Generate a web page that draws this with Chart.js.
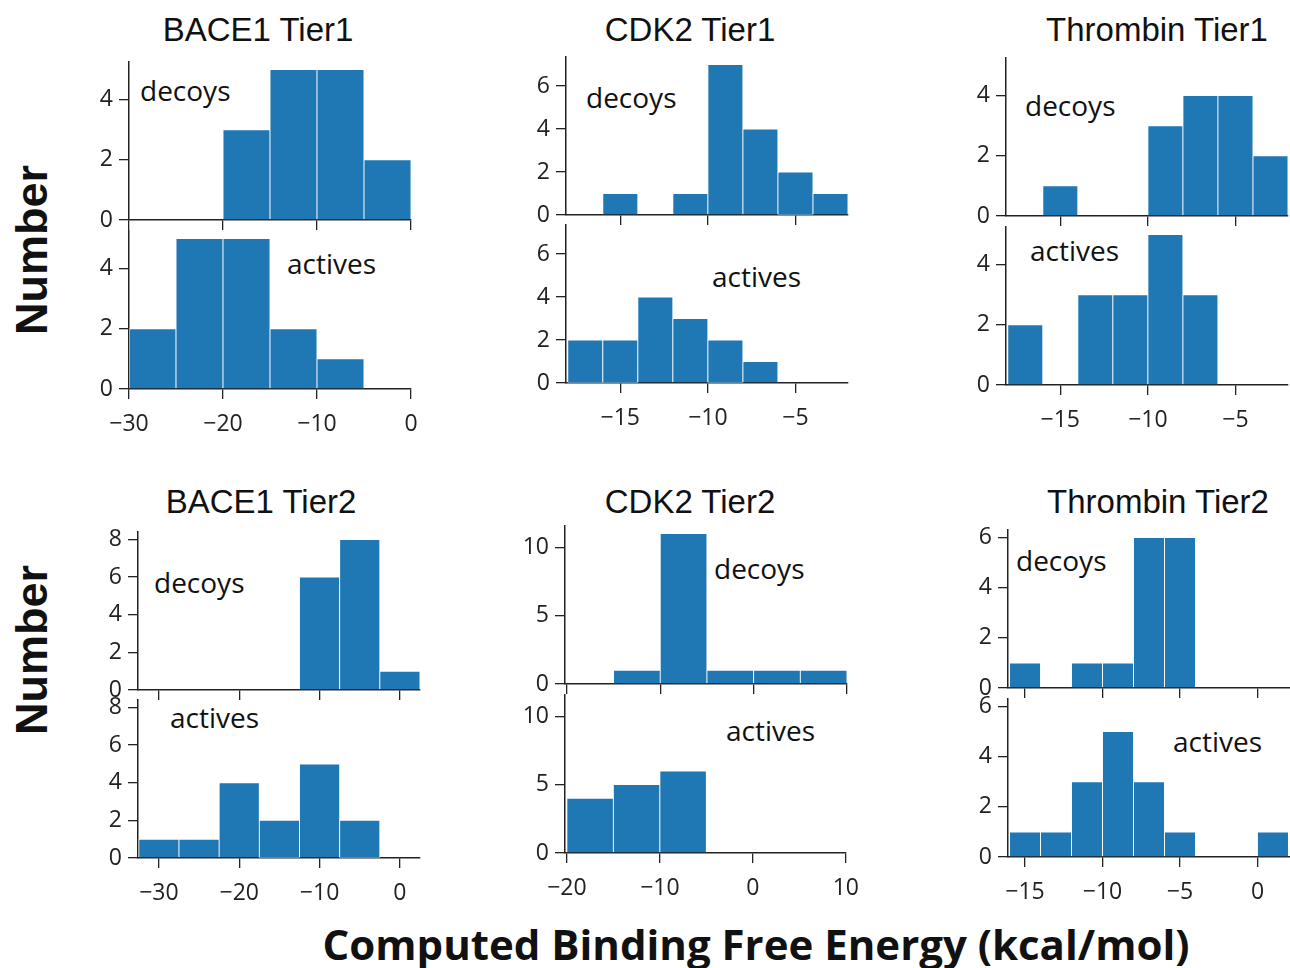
<!DOCTYPE html>
<html>
<head>
<meta charset="utf-8">
<script src="https://cdn.jsdelivr.net/npm/chart.js@4.4.0/dist/chart.umd.min.js"></script>
<style>
html, body { margin: 0; padding: 0; background: #fff; overflow: hidden; }
#fig { position: relative; width: 1290px; height: 968px; }
#fig canvas { position: absolute; }
.t { position: absolute; line-height: 1; white-space: nowrap; color: #111; }
.title { font: 33px "Liberation Sans", Arial, sans-serif; transform: translate(-50%, -50%); }
.lab { font: 28px "Open Sans", sans-serif; }
.ylab { font: bold 45px "Liberation Sans", Arial, sans-serif; transform: translate(-50%, -50%) rotate(-90deg); }
.xlab { font: bold 42px "Open Sans", sans-serif; transform: translate(-50%, -50%); }
</style>
</head>
<body>
<div id="fig">
  <div class="t title" style="left:258px; top:30px">BACE1 Tier1</div>
  <div class="t title" style="left:690px; top:30px">CDK2 Tier1</div>
  <div class="t title" style="left:1157px; top:30px">Thrombin Tier1</div>
  <div class="t title" style="left:261px; top:502px">BACE1 Tier2</div>
  <div class="t title" style="left:690px; top:502px">CDK2 Tier2</div>
  <div class="t title" style="left:1158px; top:502px">Thrombin Tier2</div>

  <div class="t ylab" style="left:32px; top:250px">Number</div>
  <div class="t ylab" style="left:32px; top:650px">Number</div>
  <div class="t xlab" style="left:756px; top:943px">Computed Binding Free Energy (kcal/mol)</div>

  <div class="t lab" style="left:140px; top:71px">decoys</div>
  <div class="t lab" style="left:287px; top:244px">actives</div>
  <div class="t lab" style="left:586px; top:78px">decoys</div>
  <div class="t lab" style="left:712px; top:257px">actives</div>
  <div class="t lab" style="left:1025px; top:86px">decoys</div>
  <div class="t lab" style="left:1030px; top:231px">actives</div>
  <div class="t lab" style="left:154px; top:563px">decoys</div>
  <div class="t lab" style="left:170px; top:698px">actives</div>
  <div class="t lab" style="left:714px; top:549px">decoys</div>
  <div class="t lab" style="left:726px; top:711px">actives</div>
  <div class="t lab" style="left:1016px; top:541px">decoys</div>
  <div class="t lab" style="left:1173px; top:722px">actives</div>
</div>
<script>
// bin edges (kcal/mol) and counts for each target / tier
const baceT1Bins = [-30, -25, -20, -15, -10, -5, 0];
const baceT1Decoys = [0, 0, 3, 5, 5, 2];
const baceT1Actives = [2, 5, 5, 2, 1, 0];
const baceT1XTicks = [-30, -20, -10, 0];
const baceT1YTicks = [0, 2, 4];

const cdk2T1Bins = [-18, -16, -14, -12, -10, -8, -6, -4, -2];
const cdk2T1Decoys = [0, 1, 0, 1, 7, 4, 2, 1];
const cdk2T1Actives = [2, 2, 4, 3, 2, 1, 0, 0];
const cdk2T1XTicks = [-15, -10, -5];
const cdk2T1YTicks = [0, 2, 4, 6];

const thrT1Bins = [-18, -16, -14, -12, -10, -8, -6, -4, -2];
const thrT1Decoys = [0, 1, 0, 0, 3, 4, 4, 2];
const thrT1Actives = [2, 0, 3, 3, 5, 3, 0, 0];
const thrT1XTicks = [-15, -10, -5];
const thrT1YTicks = [0, 2, 4];

const baceT2Bins = [-32.5, -27.5, -22.5, -17.5, -12.5, -7.5, -2.5, 2.5];
const baceT2Decoys = [0, 0, 0, 0, 6, 8, 1];
const baceT2Actives = [1, 1, 4, 2, 5, 2, 0];
const baceT2XTicks = [-30, -20, -10, 0];
const baceT2YTicks = [0, 2, 4, 6, 8];

const cdk2T2Bins = [-20, -15, -10, -5, 0, 5, 10];
const cdk2T2Decoys = [0, 1, 11, 1, 1, 1];
const cdk2T2Actives = [4, 5, 6, 0, 0, 0];
const cdk2T2XTicks = [-20, -10, 0, 10];
const cdk2T2YTicks = [0, 5, 10];

const thrT2Bins = [-16, -14, -12, -10, -8, -6, -4, -2, 0, 2];
const thrT2Decoys = [1, 0, 1, 1, 6, 6, 0, 0, 0];
const thrT2Actives = [1, 1, 3, 5, 3, 1, 0, 0, 1];
const thrT2XTicks = [-15, -10, -5, 0];
const thrT2YTicks = [0, 2, 4, 6];

const panels = [
  {bins: baceT1Bins, decoys: baceT1Decoys, actives: baceT1Actives, xTicks: baceT1XTicks, yTicks: baceT1YTicks,
   xMin: -30, xMax: 0, left: 129, top1: 62, top2: 231},
  {bins: cdk2T1Bins, decoys: cdk2T1Decoys, actives: cdk2T1Actives, xTicks: cdk2T1XTicks, yTicks: cdk2T1YTicks,
   xMin: -18.1, xMax: -2, left: 566, top1: 57, top2: 225},
  {bins: thrT1Bins, decoys: thrT1Decoys, actives: thrT1Actives, xTicks: thrT1XTicks, yTicks: thrT1YTicks,
   xMin: -18.1, xMax: -2, left: 1006, top1: 58, top2: 227},
  {bins: baceT2Bins, decoys: baceT2Decoys, actives: baceT2Actives, xTicks: baceT2XTicks, yTicks: baceT2YTicks,
   xMin: -32.6, xMax: 2.5, left: 138, top1: 532, top2: 700},
  {bins: cdk2T2Bins, decoys: cdk2T2Decoys, actives: cdk2T2Actives, xTicks: cdk2T2XTicks, yTicks: cdk2T2YTicks,
   xMin: -20.2, xMax: 10, left: 565, top1: 526, top2: 695},
  {bins: thrT2Bins, decoys: thrT2Decoys, actives: thrT2Actives, xTicks: thrT2XTicks, yTicks: thrT2YTicks,
   xMin: -16.1, xMax: 2.1, left: 1008, top1: 530, top2: 699}
];

const PAD_L = 8, Y_W = 62, PAD_T = 22, PAD_R = 24;
const PLOT_W = 282, PLOT_H = 158;
const AXIS = '#222';
const fig = document.getElementById('fig');

function fmt(v) {
  return v < 0 ? '\u2212' + Math.abs(v) : String(v);
}

function histPoints(bins, counts) {
  return counts.map((c, i) => ({x: (bins[i] + bins[i + 1]) / 2, y: c}));
}

function drawHist(p, counts, plotTop, withLabels, yMax) {
  const xh = withLabels ? 58 : 22;
  const cv = document.createElement('canvas');
  cv.width = PAD_L + Y_W + PLOT_W + PAD_R;
  cv.height = PAD_T + PLOT_H + xh;
  cv.style.left = (p.left - PAD_L - Y_W) + 'px';
  cv.style.top = (plotTop - PAD_T) + 'px';
  fig.appendChild(cv);

  const grid = {drawOnChartArea: false, drawTicks: true, tickLength: 10, color: AXIS, lineWidth: 1.3, offset: false};
  const border = {display: true, color: AXIS, width: 1.5};
  const tickFont = {family: 'Open Sans', size: 23};

  new Chart(cv.getContext('2d'), {
    type: 'bar',
    data: {
      datasets: [{
        data: histPoints(p.bins, counts),
        backgroundColor: '#1f77b4',
        borderColor: '#ffffff',
        borderWidth: 0.8,
        barPercentage: 1,
        categoryPercentage: 1
      }]
    },
    options: {
      responsive: false,
      animation: false,
      layout: {padding: {left: PAD_L, top: PAD_T, right: PAD_R, bottom: 0}},
      plugins: {legend: {display: false}, tooltip: {enabled: false}},
      scales: {
        x: {
          type: 'linear', min: p.xMin, max: p.xMax, bounds: 'data', offset: false,
          grid: grid, border: border,
          ticks: {display: withLabels, color: AXIS, font: tickFont, padding: 12, maxRotation: 0, autoSkip: false, callback: fmt},
          afterBuildTicks: s => { s.ticks = p.xTicks.map(v => ({value: v})); },
          afterFit: s => { s.height = xh; }
        },
        y: {
          min: 0, max: yMax, bounds: 'data',
          grid: grid, border: border,
          ticks: {color: AXIS, font: tickFont, padding: 6, callback: fmt},
          afterBuildTicks: s => { s.ticks = p.yTicks.map(v => ({value: v})); },
          afterFit: s => { s.width = Y_W; }
        }
      }
    }
  });
}

panels.forEach(p => {
  const yMax = 1.05 * Math.max(...p.decoys, ...p.actives);
  drawHist(p, p.decoys, p.top1, false, yMax);
  drawHist(p, p.actives, p.top2, true, yMax);
});
</script>
</body>
</html>
